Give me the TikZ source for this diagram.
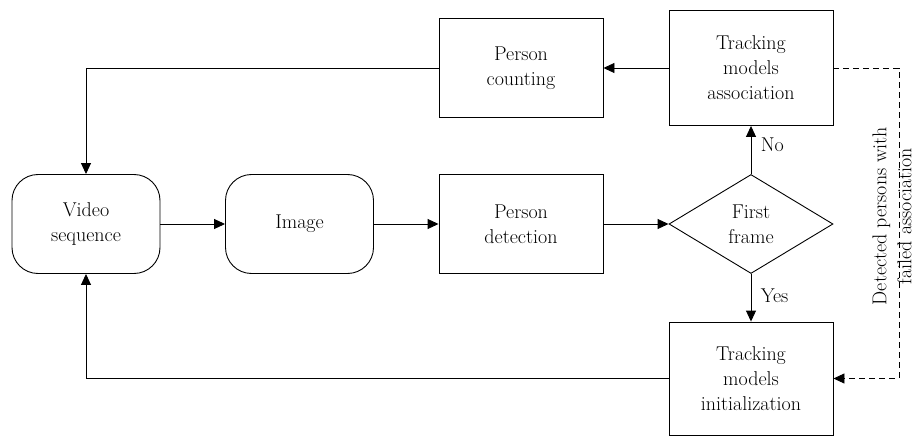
\documentclass[tikz,border=0pt]{standalone}
\usepackage{tikz}
\usetikzlibrary{arrows.meta,positioning,shapes.geometric}

\begin{document}
\begin{tikzpicture}[x=1pt, y=1pt, line width=0.9pt,
        every node/.style={font=\fontsize{20}{25}\selectfont, align=center},
        roundbox/.style={draw, rounded corners=26pt, minimum width=148pt, minimum height=99pt, inner sep=0pt},
        sqbox/.style={draw, minimum width=164pt, minimum height=99pt, inner sep=0pt},
        decision/.style={draw, diamond, aspect=1.66, minimum width=164pt, minimum height=99pt, inner sep=0pt},
        arr/.style={-{Triangle[length=11pt, width=10pt]}}]
        \useasboundingbox (0,0) rectangle (916,437);

        % Main row
        \node[roundbox] (video) at (86,213) {Video\\sequence};
        \node[roundbox] (image) at (299.5,213) {Image};
        \node[sqbox] (detect) at (521,213) {Person\\detection};
        \node[decision] (first) at (751,213) {First\\frame};

        % Top and bottom boxes
        \node[sqbox] (count) at (521,369) {Person\\counting};
        \node[sqbox, minimum height=115pt] (assoc) at (751,369) {Tracking\\models\\association};
        \node[sqbox, minimum height=113pt] (init) at (751,58.5) {Tracking\\models\\initialization};

        % Arrows along the main row
        \draw[arr] (video) -- (image);
        \draw[arr] (image) -- (detect);
        \draw[arr] (detect) -- (first);

        % Decision branches
        \draw[arr] (first.north) -- node[right=6pt, pos=0.6] (no) {No} (assoc.south);
        \draw[arr] (first.south) -- node[right=6pt, pos=0.45] (yes) {Yes} (init.north);

        % Feedback loops
        \draw[arr] (assoc.west) -- (count.east);
        \draw[arr] (count.west) -| (video.north);
        \draw[arr] (init.west) -| (video.south);

        % Failed associations (dashed)
        \coordinate (dashx) at (899,0);
        \draw[arr, dashed, dash pattern=on 6pt off 4pt] (assoc.east) -- (assoc.east -| dashx) |- (init.east);
        \node[rotate=90] (failed) at (892,221) {Detected persons with\\failed association};
    \end{tikzpicture}
\end{document}
